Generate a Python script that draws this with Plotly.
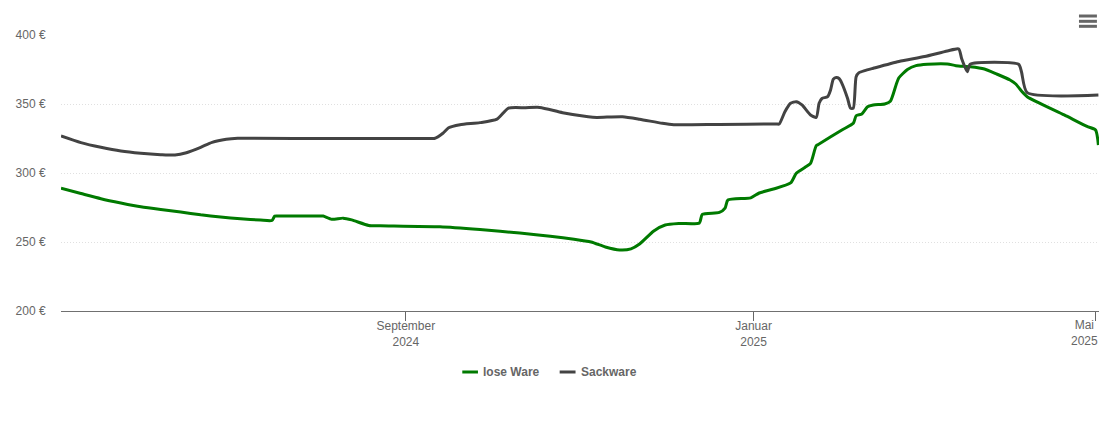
import plotly.graph_objects as go

# Preisverlauf
lose_name = 'lose Ware'
lose_dates = ['2024-05-03', '2024-05-10', '2024-05-17', '2024-05-24', '2024-05-31', '2024-06-07', '2024-06-14', '2024-06-21',
              '2024-06-28', '2024-07-05', '2024-07-12', '2024-07-16', '2024-07-17', '2024-07-18', '2024-08-02',
              '2024-08-03', '2024-08-06', '2024-08-10', '2024-08-13', '2024-08-19', '2024-08-23', '2024-09-13', '2024-09-27',
              '2024-10-11', '2024-10-30', '2024-11-05', '2024-11-10', '2024-11-15', '2024-11-19', '2024-11-22', '2024-11-27',
              '2024-12-01', '2024-12-06', '2024-12-13', '2024-12-14', '2024-12-20', '2024-12-22', '2024-12-23', '2024-12-31',
              '2025-01-03', '2025-01-08', '2025-01-14', '2025-01-16', '2025-01-19', '2025-01-21', '2025-01-23', '2025-01-24',
              '2025-02-01', '2025-02-05', '2025-02-06', '2025-02-08', '2025-02-10', '2025-02-12', '2025-02-16', '2025-02-18',
              '2025-02-20', '2025-02-21', '2025-02-24', '2025-02-27', '2025-03-03', '2025-03-10', '2025-03-13', '2025-03-18',
              '2025-03-23', '2025-03-27', '2025-04-01', '2025-04-03', '2025-04-05', '2025-04-07', '2025-04-20', '2025-04-28',
              '2025-05-01', '2025-05-02']
lose_prices = [288.9, 285.1, 281.4, 278.3, 275.5, 273.5, 271.7, 269.7,
               268.1, 266.8, 265.9, 265.6, 268.8, 268.9, 268.8,
               268.8, 266.5, 267.3, 266, 262, 261.8, 261, 259,
               256.5, 252, 250, 246.4, 244.2, 245, 248.5, 258,
               262.3, 263.4, 263.8, 270, 271.4, 274.6, 280.4, 282,
               285.5, 288.4, 292.8, 299.8, 304, 307, 319.8, 321,
               331.2, 336, 341.5, 342.8, 348, 349.3, 350, 352,
               363.8, 369, 375, 377.8, 378.8, 379, 377.8, 377,
               375.4, 372, 367.4, 364.5, 359.4, 355.3, 342.1, 333.7,
               331.2, 320.3]

sack_name = 'Sackware'
sack_dates = ['2024-05-03', '2024-05-10', '2024-05-17', '2024-05-24', '2024-05-31', '2024-06-07', '2024-06-12', '2024-06-16',
              '2024-06-21', '2024-06-25', '2024-06-30', '2024-07-04', '2024-08-01',
              '2024-09-10', '2024-09-11', '2024-09-14', '2024-09-16', '2024-09-20', '2024-09-27', '2024-10-03', '2024-10-07',
              '2024-10-13', '2024-10-18', '2024-10-26', '2024-11-04', '2024-11-07', '2024-11-16', '2024-11-22', '2024-11-30',
              '2024-12-04', '2024-12-20', '2025-01-09', '2025-01-10', '2025-01-12', '2025-01-14', '2025-01-16', '2025-01-18', '2025-01-21',
              '2025-01-23', '2025-01-24', '2025-01-25', '2025-01-27', '2025-01-28', '2025-01-29', '2025-01-30', '2025-01-31', '2025-02-01',
              '2025-02-03', '2025-02-04', '2025-02-05', '2025-02-06', '2025-02-07', '2025-02-09', '2025-02-12', '2025-02-21',
              '2025-03-02', '2025-03-10', '2025-03-14', '2025-03-15', '2025-03-17', '2025-03-18', '2025-04-04', '2025-04-05',
              '2025-04-07', '2025-05-02']
sack_prices = [326.8, 322, 318.6, 315.9, 314.3, 313.3, 313, 314.7,
               318.6, 322.2, 324.4, 325.1, 325,
               325, 325, 328.8, 332.8, 335, 336.5, 339, 347,
               347.3, 347.5, 343.7, 340.8, 340.3, 340.8, 339, 336,
               335, 335.2, 335.5, 335.5, 344.4, 350.5, 351.7, 349.3, 342,
               340.3, 350.5, 354, 355.3, 360, 368, 369.2, 368.5, 365,
               354, 347, 347, 369.8, 372.7, 374.2, 375.9, 380.8,
               384.4, 388.4, 389.9, 383, 373.4, 378.8, 378.8, 373.4,
               358.2, 356.5]

y_ticks = [200, 250, 300, 350, 400]
y_labels = ['200 €', '250 €', '300 €', '350 €', '400 €']
x_ticks = ['2024-09-01', '2025-01-01', '2025-05-01']
x_labels = ['September<br>2024', 'Januar<br>2025', '']
last_label = 'Mai<br>2025'

GREEN = '#007a00'
GREY = '#434343'
TEXT = '#666666'
FONT = 'Liberation Sans, Arial, sans-serif'

fig = go.Figure()
fig.add_trace(go.Scatter(x=lose_dates, y=lose_prices, mode='lines', name=lose_name,
                         line=dict(color=GREEN, width=3, shape='spline', smoothing=0.6)))
fig.add_trace(go.Scatter(x=sack_dates, y=sack_prices, mode='lines', name=sack_name,
                         line=dict(color=GREY, width=3, shape='spline', smoothing=0.6)))

# Plotly-Legende hat feste Symbolbreite, deshalb von Hand
legend_items = [(lose_name, GREEN, 0.3866, 0.4017, 0.4050), (sack_name, GREY, 0.4804, 0.4957, 0.4995)]
shapes = []
annotations = []
for name, color, x0, x1, xt in legend_items:
    shapes.append(dict(type='line', xref='paper', yref='paper', x0=x0, x1=x1, y0=-0.221, y1=-0.221,
                       line=dict(color=color, width=3)))
    annotations.append(dict(text=f'<b>{name}</b>', xref='paper', yref='paper', x=xt, y=-0.221,
                            xanchor='left', yanchor='middle', showarrow=False,
                            font=dict(size=12, color=TEXT, family=FONT)))

# letzter Monat steht links vom Tick, sonst waere er am Rand abgeschnitten
annotations.append(dict(text=last_label, xref='x', yref='paper', x=x_ticks[-1], y=-0.0181, xshift=-11,
                        xanchor='center', yanchor='top', showarrow=False, align='center',
                        font=dict(size=12, color=TEXT, family=FONT)))

# Menue-Symbol oben rechts
for y in [1.0688, 1.0496, 1.0315]:
    shapes.append(dict(type='line', xref='paper', yref='paper', x0=0.9807, x1=0.998, y0=y, y1=y,
                       line=dict(color=TEXT, width=3)))

fig.update_layout(
    width=1094,
    height=406,
    margin=dict(l=53, r=3, t=27, b=103),
    plot_bgcolor='white',
    paper_bgcolor='white',
    showlegend=False,
    font=dict(family=FONT, size=12, color=TEXT),
    shapes=shapes,
    annotations=annotations,
    xaxis=dict(range=['2024-05-03', '2025-05-02 05:00'], tickmode='array', tickvals=x_ticks, ticktext=x_labels,
               showgrid=False, zeroline=False, showline=True, linecolor='#707070', linewidth=1,
               ticks='outside', ticklen=9, tickcolor='#666666', tickwidth=1, tickangle=0, ticklabelstandoff=-5,
               tickfont=dict(size=12, color=TEXT, family=FONT)),
    yaxis=dict(range=[200, 400], tickmode='array', tickvals=y_ticks, ticktext=y_labels,
               showgrid=True, gridcolor='#e0e0e0', griddash='1px,2px', gridwidth=1, zeroline=False,
               ticks='outside', ticklen=12, tickcolor='rgba(0,0,0,0)',
               tickfont=dict(size=12, color=TEXT, family=FONT)),
)

fig.write_html("out.html")
